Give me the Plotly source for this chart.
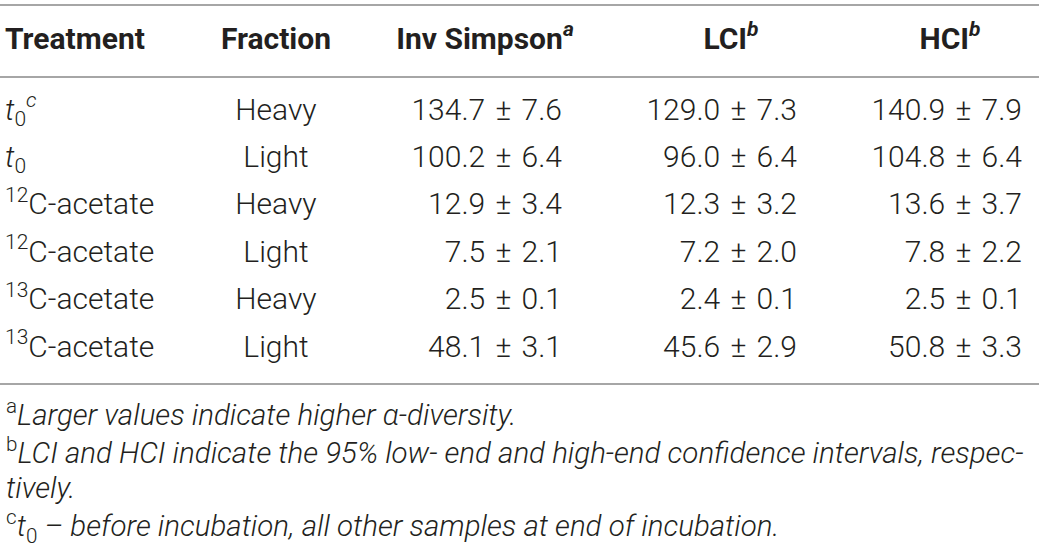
import plotly.graph_objects as go

# table contents
headers = ["Treatment", "Fraction", "Inv Simpson<sup><i>a</i></sup>",
           "LCI<sup><i>b</i></sup>", "HCI<sup><i>b</i></sup>"]
treatments = ["<i>t</i><sub>0</sub><sup><i>c</i></sup>", "<i>t</i><sub>0</sub>",
              "<sup>12</sup>C-acetate", "<sup>12</sup>C-acetate",
              "<sup>13</sup>C-acetate", "<sup>13</sup>C-acetate"]
fractions = ["Heavy", "Light", "Heavy", "Light", "Heavy", "Light"]
inv_simpson = [134.7, 100.2, 12.9, 7.5, 2.5, 48.1]
inv_simpson_sd = [7.6, 6.4, 3.4, 2.1, 0.1, 3.1]
lci = [129.0, 96.0, 12.3, 7.2, 2.4, 45.6]
lci_sd = [7.3, 6.4, 3.2, 2.0, 0.1, 2.9]
hci = [140.9, 104.8, 13.6, 7.8, 2.5, 50.8]
hci_sd = [7.9, 6.4, 3.7, 2.2, 0.1, 3.3]
footnotes = [
    "<sup>a</sup><i>Larger values indicate higher α-diversity.</i>",
    "<sup>b</sup><i>LCI and HCI indicate the 95% low- end and high-end confidence intervals, respec-</i>",
    "<i>tively.</i>",
    "<sup>c</sup><i>t</i><sub>0</sub><i> – before incubation, all other samples at end of incubation.</i>",
]

W, H = 1039, 547
BODY = "Roboto"
INK = "#231f20"
row_y = [112 + 47.4 * i for i in range(len(treatments))]


def pm(vals, sds):
    sp = "\u2004"
    return [f"{v:.1f}{sp}±{sp}{s:.1f}" for v, s in zip(vals, sds)]


fig = go.Figure()

# columns: x anchor, text position, texts
cols = [
    (5, "middle right", treatments),
    (276, "middle center", fractions),
    (562, "middle left", pm(inv_simpson, inv_simpson_sd)),
    (797, "middle left", pm(lci, lci_sd)),
    (1022, "middle left", pm(hci, hci_sd)),
]
for x, pos, texts in cols:
    fig.add_trace(go.Scatter(
        x=[x] * len(texts), y=row_y, text=texts, mode="text",
        textposition=pos, hoverinfo="skip",
        textfont=dict(family=BODY, size=30, color=INK, weight=300),
    ))

# header row
head_x = [5, 276, 485, 731, 950]
head_pos = ["middle right", "middle center", "middle center", "middle center", "middle center"]
fig.add_trace(go.Scatter(
    x=head_x, y=[41] * len(headers), text=headers, mode="text",
    textposition=head_pos, hoverinfo="skip",
    textfont=dict(family=BODY, size=30, color=INK, weight=700),
))

# rules
for y in [5, 77, 384]:
    fig.add_shape(type="line", x0=0, x1=W, y0=y, y1=y,
                  line=dict(color="#a6a6a6", width=2))

# footnotes
for y, t in zip([413, 451, 488, 526], footnotes):
    fig.add_annotation(x=4, y=y, text=t, showarrow=False, xanchor="left",
                       yanchor="middle", align="left",
                       font=dict(family=BODY, size=29.5, color=INK, weight=300))

fig.update_xaxes(range=[0, W], visible=False, fixedrange=True)
fig.update_yaxes(range=[H, 0], visible=False, fixedrange=True)
fig.update_layout(width=W, height=H, margin=dict(l=0, r=0, t=0, b=0),
                  showlegend=False, plot_bgcolor="white", paper_bgcolor="white")

# page has a default 8px body margin; drop it so the figure fills the window
fig.write_html("out.html", config={"displayModeBar": False},
               post_script="document.body.style.margin='0';")
